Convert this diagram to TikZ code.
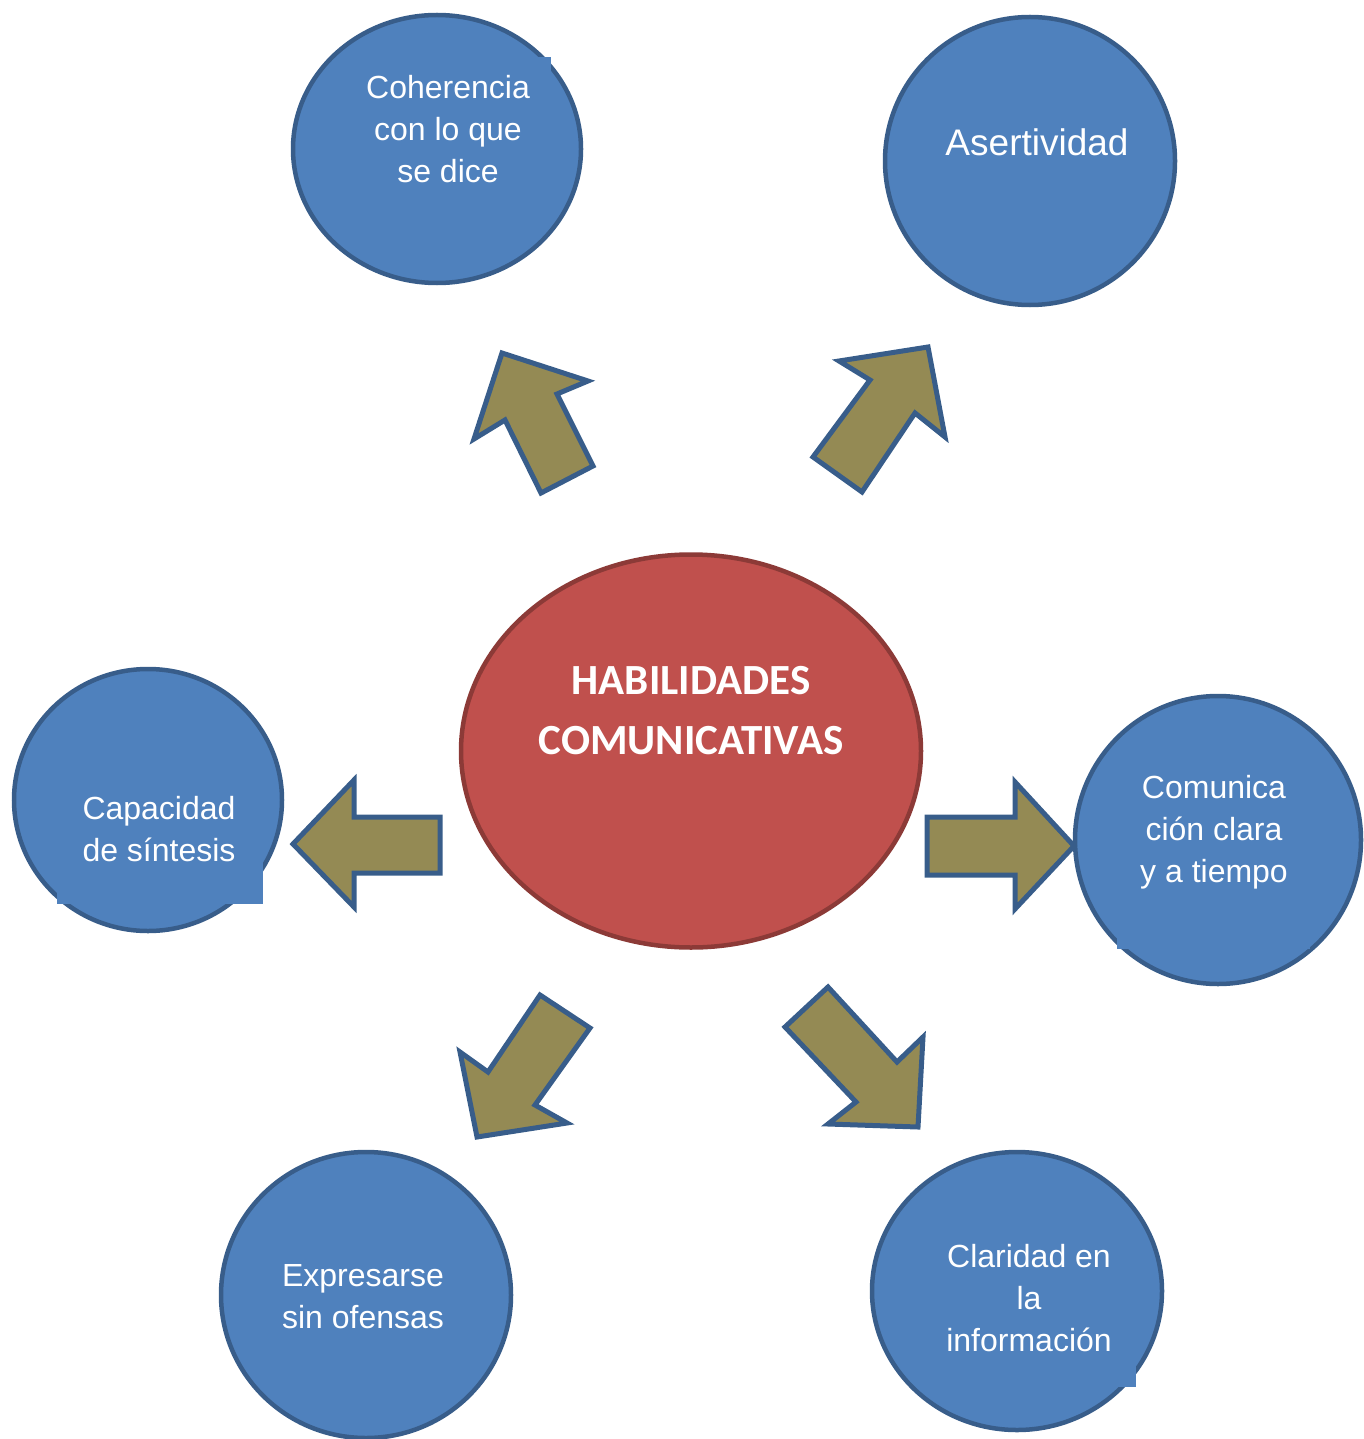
\documentclass[tikz,border=0pt]{standalone}
\usepackage{fontspec}
\setmainfont{Liberation Sans}
\newfontfamily\titlefont{Carlito}
\usetikzlibrary{shapes.geometric}
\definecolor{bubblefill}{HTML}{4F81BD}
\definecolor{bubbleline}{HTML}{385D8A}
\definecolor{hubfill}{HTML}{C0504D}
\definecolor{hubline}{HTML}{8C3A37}
\definecolor{arrowfill}{HTML}{948A54}
\begin{document}
\begin{tikzpicture}[x=1pt,y=-1pt,
  bubble/.style={ellipse, draw=bubbleline, fill=bubblefill, line width=4.5pt, inner sep=0pt},
  hub/.style={ellipse, draw=hubline, fill=hubfill, line width=4.5pt, inner sep=0pt},
  label/.style={text=white, align=center, inner sep=0pt, font=\fontsize{32}{42}\selectfont},
  patch/.style={fill=bubblefill, draw=none},
  blockarrow/.style={fill=arrowfill, draw=bubbleline, line width=5pt, line join=miter}]
\useasboundingbox (0,0) rectangle (1363,1439);

% surrounding bubbles
\node[bubble, minimum width=288pt, minimum height=268pt] (coh) at (437,149) {};
\node[bubble, minimum width=290pt, minimum height=288pt] (ase) at (1030,161) {};
\node[bubble, minimum width=268pt, minimum height=262pt] (cap) at (148,800) {};
\node[bubble, minimum width=286pt, minimum height=288pt] (com) at (1218,840) {};
\node[bubble, minimum width=290pt, minimum height=286pt] (exp) at (366,1295) {};
\node[bubble, minimum width=290pt, minimum height=278pt] (cla) at (1017,1291) {};

% text-box fills that overlap the bubble outlines
\fill[patch] (360,57) rectangle (551,190);
\fill[patch] (57,770) rectangle (263,904);
\fill[patch] (1117,770) rectangle (1310,949);
\fill[patch] (925,1220) rectangle (1136,1387);

% central ellipse
\node[hub, minimum width=460pt, minimum height=393pt] (hab) at (691,751) {};

% labels
\node[label] (tcoh) at (448,129) {Coherencia\\con lo que\\se dice};
\node[label, font=\fontsize{37}{44}\selectfont] (tase) at (1037,142) {Asertividad};
\node[label] (tcap) at (159,829) {Capacidad\\de síntesis};
\node[label] (tcom) at (1214,832) {Comunica\\ción clara\\y a tiempo};
\node[label] (texp) at (363,1297) {Expresarse\\sin ofensas};
\node[label] (tcla) at (1029,1298) {Claridad en\\la\\información};
\node[label, font=\titlefont\bfseries\fontsize{43}{60}\selectfont] (thab) at (691,711) {HABILIDADES\\COMUNICATIVAS};

% block arrows pointing from the centre outwards
\draw[blockarrow] (502,353) -- (588,381) -- (557,394) -- (593,466) -- (541,493) -- (505,420) -- (474,439) -- cycle;
\draw[blockarrow] (928,347) -- (945,437) -- (915,413) -- (862,492) -- (813,457) -- (870,380) -- (839,361) -- cycle;
\draw[blockarrow] (293,844) -- (354,780) -- (354,817) -- (440,817) -- (440,873) -- (354,873) -- (354,907) -- cycle;
\draw[blockarrow] (1074,846) -- (1015,782) -- (1015,817) -- (927,817) -- (927,875) -- (1015,875) -- (1015,909) -- cycle;
\draw[blockarrow] (477,1137) -- (460,1052) -- (488,1072) -- (540,995) -- (590,1028) -- (535,1105) -- (567,1123) -- cycle;
\draw[blockarrow] (918,1127) -- (828,1124) -- (856,1102) -- (785,1027) -- (828,987) -- (897,1062) -- (923,1037) -- cycle;
\end{tikzpicture}
\end{document}
